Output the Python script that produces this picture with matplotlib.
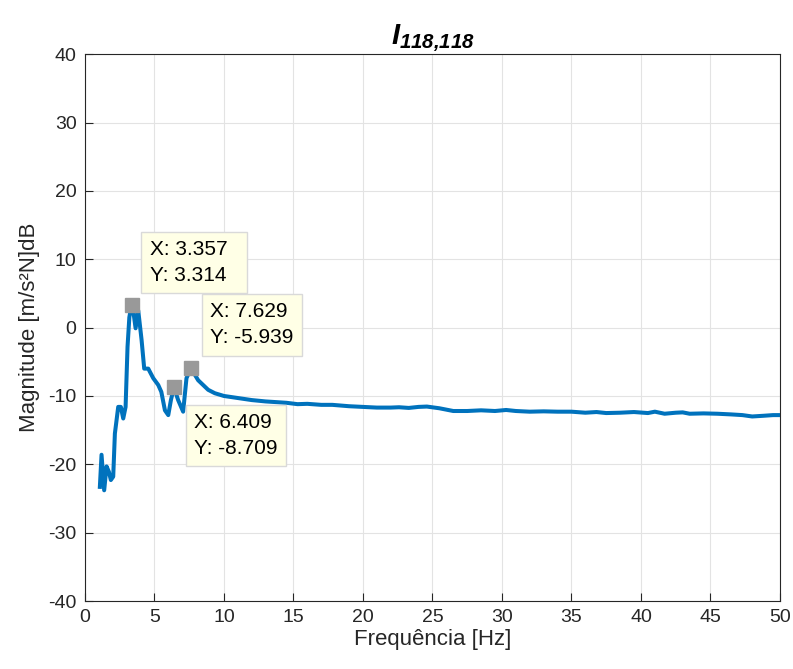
import numpy as np
import matplotlib
matplotlib.use("Agg")
import matplotlib.pyplot as plt

plt.rcParams['font.family'] = ['Liberation Sans', 'DejaVu Sans']
plt.rcParams['mathtext.fontset'] = 'custom'
plt.rcParams['mathtext.it'] = 'Liberation Sans:italic:bold'
plt.rcParams['mathtext.rm'] = 'Liberation Sans:italic:bold'
plt.rcParams['axes.unicode_minus'] = False

# dados (frequencia em Hz, magnitude em dB)
freq = [1.08, 1.20, 1.39, 1.56, 1.73, 1.87, 2.04, 2.16, 2.40, 2.59, 2.76, 2.93,
        3.07, 3.20, 3.357, 3.50, 3.65, 3.84, 4.08, 4.27, 4.56, 4.92, 5.28, 5.50,
        5.76, 6.00, 6.19, 6.409, 6.71, 7.07, 7.31, 7.629, 8.15, 8.87, 9.35,
        10.0, 11.0, 12.0, 13.0, 14.5, 15.3, 16.0, 17.0, 17.8, 19.0, 20.0, 21.0, 22.0, 22.6,
        23.3, 24.0, 24.6, 25.5, 26.5, 27.5, 28.5, 29.5, 30.3, 31.0, 32.0, 33.0,
        34.0, 35.0, 36.0, 36.8, 37.5, 38.5, 39.5, 40.5, 41.0, 41.7, 42.5, 43.0,
        43.5, 44.5, 45.5, 46.5, 47.3, 48.0, 48.8, 49.5, 50.0]
mag = [-23.3, -18.6, -23.8, -20.3, -21.1, -22.3, -21.8, -15.5, -11.6, -11.6, -13.3, -11.6,
       -2.8, 1.5, 3.314, 2.2, -0.1, 2.5, -1.8, -6.0, -6.0, -7.4, -8.4, -9.4,
       -12.1, -12.8, -10.6, -8.709, -10.6, -12.3, -7.4, -5.939, -7.7, -9.1, -9.6,
       -10.0, -10.3, -10.6, -10.8, -11.0, -11.2, -11.15, -11.3, -11.3, -11.5, -11.6, -11.7, -11.7, -11.65,
       -11.75, -11.6, -11.55, -11.8, -12.2, -12.2, -12.1, -12.2, -12.05, -12.2, -12.3, -12.25,
       -12.3, -12.3, -12.45, -12.35, -12.5, -12.45, -12.35, -12.5, -12.3, -12.6, -12.45, -12.4,
       -12.6, -12.55, -12.6, -12.7, -12.8, -13.0, -12.9, -12.8, -12.8]

# datatips: (x, y, deslocamento em pixels, alinhamento vertical)
tips_x = [3.357, 7.629, 6.409]
tips_y = [3.314, -5.939, -8.709]
tips_off = [(18, 20), (19, 21), (20, -26)]
tips_va = ['bottom', 'bottom', 'top']
tips_fill = ['  ', '', '']

fig = plt.figure(figsize=(7.93, 6.69), dpi=100)
ax = fig.add_axes([0.107, 0.1016, 0.8766, 0.8174])

ax.plot(freq, mag, color='#0072BD', linewidth=2.9, zorder=3)

for x, y, off, va, fill in zip(tips_x, tips_y, tips_off, tips_va, tips_fill):
    ax.plot(x, y, 's', color='#999999', markersize=10, markeredgecolor='#999999', zorder=4)
    ax.annotate(f"X: {x:.3f}{fill}\nY: {y:.3f}{fill}", xy=(x, y), xytext=off,
                textcoords='offset pixels', ha='left', va=va, fontsize=15,
                linespacing=1.45, color='black', zorder=5,
                bbox=dict(boxstyle='square,pad=0.4', facecolor='#FFFFE6',
                          edgecolor='#D9D9D9', linewidth=1.0))

ax.set_xlim(0, 50)
ax.set_ylim(-40, 40)
ax.set_xticks(np.arange(0, 51, 5))
ax.set_yticks(np.arange(-40, 41, 10))
ax.grid(True, color='#E3E3E3', linewidth=0.8)
ax.set_axisbelow(True)
ax.tick_params(direction='in', length=6, labelsize=14, colors='#262626', width=0.8, pad=6)
for s in ax.spines.values():
    s.set_color('#262626')
    s.set_linewidth(0.8)

ax.set_xlabel('Frequência [Hz]', fontsize=16, color='#262626', labelpad=2)
ax.set_ylabel('Magnitude [m/s²N]dB', fontsize=16, color='#262626', labelpad=6)
ax.set_title(r'$I_{118{,}118}$', fontsize=21, color='black', pad=4)

fig.savefig('out.png', dpi=100)
